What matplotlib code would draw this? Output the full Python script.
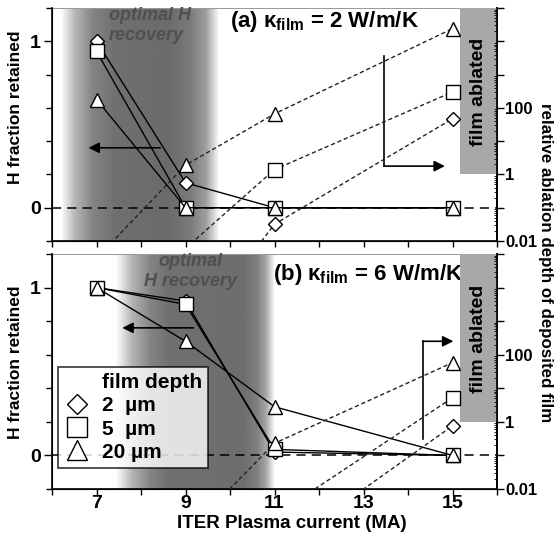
import numpy as np
import matplotlib
matplotlib.use("Agg")
import matplotlib.pyplot as plt
from matplotlib.ticker import LogLocator, NullFormatter
from matplotlib.lines import Line2D

plt.rcParams['font.family'] = ['Liberation Sans', 'DejaVu Sans']
plt.rcParams['font.weight'] = 'bold'
plt.rcParams['mathtext.fontset'] = 'custom'
plt.rcParams['mathtext.rm'] = 'Liberation Sans:bold'
plt.rcParams['mathtext.it'] = 'Liberation Sans:bold'
plt.rcParams['mathtext.bf'] = 'Liberation Sans:bold'

# plasma current (MA)
current = [7, 9, 11, 15]

# (a) kappa = 2 W/m/K : H fraction retained
h2_a = [1.0, 0.15, 0.0, 0.0]
h5_a = [0.94, 0.0, 0.0, 0.0]
h20_a = [0.65, 0.0, 0.0, 0.0]
# (a) relative ablation depth
abl_cur_a = [7, 9, 11, 15]
abl20_a = [0.003, 1.9, 66, 24000]
abl_cur5_a = [9, 11, 15]
abl5_a = [0.006, 1.4, 300]
abl2_a = [1e-5, 0.032, 47]

# (b) kappa = 6 W/m/K : H fraction retained
h2_b = [1.0, 0.92, 0.02, 0.0]
h5_b = [1.0, 0.90, 0.036, 0.0]
h20_b = [1.0, 0.68, 0.29, 0.0]
# (b) relative ablation depth
abl_cur20_b = [9, 11, 15]
abl20_b = [4.5e-4, 0.23, 58]
abl_cur_b = [11, 15]
abl5_b = [0.0016, 5.2]
abl2_b = [1.3e-4, 0.76]

depth_labels = ['2  µm', '5  µm', '20 µm']
markers = ['D', 's', '^']
msizes = [7, 9.5, 9.5]

fig = plt.figure(figsize=(5.55, 5.33), dpi=100)
ax1 = fig.add_axes([52/555, 1-241/533, 445/555, 233/533])
ax3 = fig.add_axes([52/555, 1-489/533, 445/555, 235/533])


def shade(ax, anchors_x, anchors_g):
    xs = np.linspace(6, 16, 600)
    prof = np.interp(xs, anchors_x, anchors_g, left=1.0, right=1.0)
    ax.imshow(prof[np.newaxis, :], extent=[6, 16, -0.2, 1.2], aspect='auto',
              cmap='gray', vmin=0, vmax=1, zorder=0, interpolation='bilinear')


def style_left(ax, show_x, label_y):
    ax.set_xlim(6, 16)
    ax.set_ylim(-0.2, 1.2)
    ax.set_xticks([7, 9, 11, 13, 15])
    ax.set_xticks([6, 8, 10, 12, 14, 16], minor=True)
    ax.set_yticks([0, 1])
    ax.set_yticks([-0.2, 0.2, 0.4, 0.6, 0.8, 1.2], minor=True)
    ax.tick_params(axis='both', which='both', direction='out', labelsize=14, width=1)
    ax.tick_params(axis='y', which='major', length=6, pad=2)
    ax.tick_params(axis='y', which='minor', length=4)
    ax.tick_params(axis='x', which='both', length=4, pad=0)
    if not show_x:
        ax.tick_params(axis='x', labelbottom=False)
    ax.set_ylabel('H fraction retained', fontsize=12.5, fontweight='bold')
    ax.yaxis.set_label_coords(-0.065, label_y)
    ax.axhline(0, color='k', lw=1.1, ls=(0, (6, 4)), zorder=2)
    for s in ['left', 'bottom', 'right']:
        ax.spines[s].set_linewidth(1.2)
    ax.spines['top'].set_color('#999999')
    ax.spines['top'].set_linewidth(0.7)


def style_right(ax2):
    ax2.set_yscale('log')
    ax2.set_ylim(0.01, 1e5)
    ax2.set_yticks([1e-2, 1e-1, 1, 10, 100, 1e3, 1e4, 1e5])
    ax2.set_yticklabels(['0.01', '', '1', '', '100', '', '', ''])
    ax2.yaxis.set_minor_locator(LogLocator(base=10, subs=np.arange(2, 10), numticks=20))
    ax2.yaxis.set_minor_formatter(NullFormatter())
    ax2.tick_params(axis='y', which='major', direction='out', length=5, width=1, labelsize=12, pad=1)
    ax2.tick_params(axis='y', which='minor', direction='in', length=2.5, width=0.6)
    ax2.spines['top'].set_visible(False)
    ax2.spines['right'].set_linewidth(1.2)


def h_lines(ax, series, lw):
    for vals, m, ms in zip(series, markers, msizes):
        ax.plot(current, vals, color='k', lw=lw, marker=m, ms=ms, mfc='white',
                mec='k', mew=1.0, zorder=4)


def abl_line(ax2, xs, vals, m, ms):
    ax2.plot(xs, vals, color='#222222', lw=1.0, ls=(0, (3, 2)), zorder=3)
    vis = np.array(vals) >= 0.01
    ax2.plot(np.array(xs)[vis], np.array(vals)[vis], ls='none', marker=m, ms=ms,
             mfc='white', mec='k', mew=1.0, zorder=4)


def ablated_box(ax2):
    ax2.fill_between([15.16, 16], [1, 1], [1e5, 1e5], color='#a8a8a8', lw=0, zorder=1)
    ax2.text(15.58, 300, 'film ablated', rotation=90, ha='center', va='center',
             fontsize=14, fontweight='bold', zorder=5)


def arrow(ax, x0, y0, x1, y1):
    ax.annotate('', xy=(x1, y1), xytext=(x0, y0),
                arrowprops=dict(arrowstyle='-|>', color='k', lw=1.2,
                                mutation_scale=16, shrinkA=0, shrinkB=0), zorder=6)


# ---------------- panel (a)
shade(ax1, [6.2, 6.5, 6.9, 7.4, 8.6, 9.1, 9.45, 9.75],
      [1.0, 0.72, 0.52, 0.44, 0.42, 0.48, 0.62, 1.0])
style_left(ax1, False, 0.575)
h_lines(ax1, [h2_a, h5_a, h20_a], 1.0)
ax1.text(7.27, 1.096, 'optimal H\nrecovery', ha='left', va='center', fontsize=13,
         fontstyle='italic', fontweight='bold', color='#505050', linespacing=1.25, zorder=5)
ax1.text(10.0, 1.12, r'(a) $\kappa_{film}$ = 2 W/m/K', fontsize=16, fontweight='bold',
         va='center', ha='left', zorder=5)
arrow(ax1, 8.43, 0.36, 6.82, 0.36)
ax1.plot([13.46, 13.46], [0.91, 0.25], color='k', lw=1.2, zorder=6)
arrow(ax1, 13.46, 0.25, 14.83, 0.25)

ax2 = ax1.twinx()
style_right(ax2)
ablated_box(ax2)
abl_line(ax2, abl_cur_a, abl20_a, '^', 9.5)
abl_line(ax2, abl_cur5_a, abl5_a, 's', 9.5)
abl_line(ax2, abl_cur5_a, abl2_a, 'D', 7)

# ---------------- panel (b)
shade(ax3, [7.43, 7.8, 8.2, 8.6, 10.3, 10.6, 10.8, 11.0],
      [1.0, 0.7, 0.52, 0.44, 0.43, 0.5, 0.65, 1.0])
style_left(ax3, True, 0.54)
h_lines(ax3, [h2_b, h5_b, h20_b], 1.0)
ax3.text(9.11, 1.096, 'optimal\nH recovery', ha='center', va='center', fontsize=13,
         fontstyle='italic', fontweight='bold', color='#505050', linespacing=1.25, zorder=5)
ax3.text(10.96, 1.08, r'(b) $\kappa_{film}$ = 6 W/m/K', fontsize=16, fontweight='bold',
         va='center', ha='left', zorder=5)
arrow(ax3, 9.18, 0.76, 7.58, 0.76)
ax3.plot([14.33, 14.33], [0.10, 0.68], color='k', lw=1.2, zorder=6)
arrow(ax3, 14.33, 0.68, 15.02, 0.68)

ax4 = ax3.twinx()
style_right(ax4)
ablated_box(ax4)
abl_line(ax4, abl_cur20_b, abl20_b, '^', 9.5)
abl_line(ax4, abl_cur_b, abl5_b, 's', 9.5)
abl_line(ax4, abl_cur_b, abl2_b, 'D', 7)

handles = [Line2D([], [], ls='none')]
labels = ['film depth']
for m, ms, lab in zip(markers, [10, 14, 14], depth_labels):
    handles.append(Line2D([], [], ls='none', marker=m, ms=ms, mfc='white', mec='k', mew=1.0))
    labels.append(lab)
leg = ax4.legend(handles, labels, loc='upper left', bbox_to_anchor=(6/445, 1-(367-254)/235),
                 fontsize=15, frameon=True, fancybox=False, edgecolor='k',
                 handlelength=1.2, handletextpad=0.6, labelspacing=0.2,
                 borderpad=0.3, borderaxespad=0)
leg.get_frame().set_linewidth(1.2)
leg.set_zorder(10)

fig.text(292/555, 1-523/533, 'ITER Plasma current (MA)', ha='center', va='center',
         fontsize=13.5, fontweight='bold')
fig.text(545/555, 1-263/533, 'relative ablation depth of deposited film', rotation=-90,
         ha='center', va='center', fontsize=12.2, fontweight='bold')

fig.savefig('out.png', dpi=100)
